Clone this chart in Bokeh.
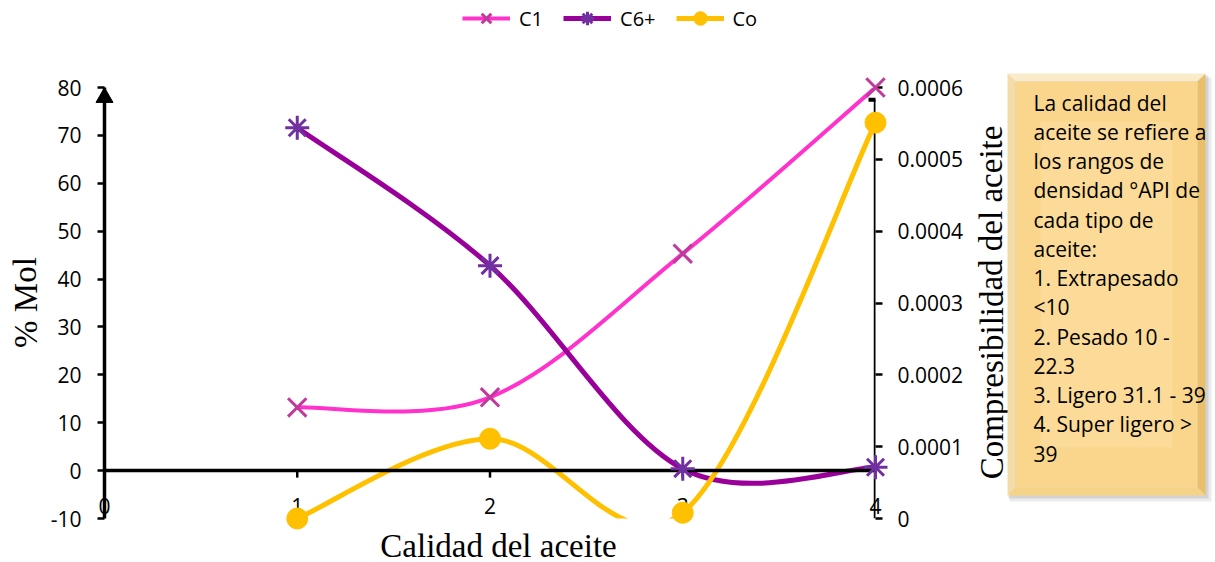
import numpy as np
from bokeh.plotting import figure
from bokeh.layouts import column
from bokeh.models import (Range1d, LinearAxis, FixedTicker, Span, Arrow, TeeHead,
                          Legend, LegendItem, CustomJSTickFormatter, ColumnDataSource)
from bokeh.core.properties import value
from bokeh.embed import file_html
from bokeh.resources import INLINE

# ---------------- data ----------------
CALIDAD = [1, 2, 3, 4]
C1 = [13.2, 15.3, 45.3, 80.0]
C6 = [71.6, 42.8, 0.4, 0.7]
CO = [0.0, 0.000111, 0.000008, 0.000551]
X_TICKS = [0, 1, 2, 3, 4]
Y_TICKS = [-10, 0, 10, 20, 30, 40, 50, 60, 70, 80]
Y2_TICKS = [0, 0.0001, 0.0002, 0.0003, 0.0004, 0.0005, 0.0006]
SERIES = ["C1", "C6+", "Co"]
X_TITLE = "Calidad del aceite"
Y_TITLE = "% Mol"
Y2_TITLE = "Compresibilidad del aceite"
NOTE_LINES = ["La calidad del", "aceite se refiere a", "los rangos de",
              "densidad °API de", "cada tipo de", "aceite:",
              "1. Extrapesado", "<10", "2. Pesado 10 -", "22.3",
              "3. Ligero 31.1 - 39", "4. Super ligero >", "39"]

SANS = "Open Sans"
SERIF = "Liberation Serif"
LINE_COLORS = ["#FF33CC", "#990099", "#FFC000"]
MARK_COLORS = ["#C0399B", "#7030A0", "#FFC000"]
LEG_H = 35  # height of the legend strip at the top of the page


def smooth(xs, ys, k=1.0 / 6.0):
    """Excel-like smoothed line: cubic Bezier control points from neighbours."""
    px = [xs[0]] + list(xs) + [xs[-1]]
    py = [ys[0]] + list(ys) + [ys[-1]]
    d = dict(x0=[], y0=[], x1=[], y1=[], cx0=[], cy0=[], cx1=[], cy1=[])
    for i in range(len(xs) - 1):
        a, b, c, e = i, i + 1, i + 2, i + 3
        d["x0"].append(px[b]); d["y0"].append(py[b])
        d["x1"].append(px[c]); d["y1"].append(py[c])
        d["cx0"].append(px[b] + (px[c] - px[a]) * k)
        d["cy0"].append(py[b] + (py[c] - py[a]) * k)
        d["cx1"].append(px[c] - (px[e] - px[b]) * k)
        d["cy1"].append(py[c] - (py[e] - py[b]) * k)
    return d


curve_src = [ColumnDataSource(smooth(CALIDAD, ys)) for ys in (C1, C6, CO)]
point_src = [ColumnDataSource(dict(x=CALIDAD, y=ys)) for ys in (C1, C6, CO)]
BEZ = dict(x0="x0", y0="y0", x1="x1", y1="y1", cx0="cx0", cy0="cy0", cx1="cx1", cy1="cy1")
LINE_W = [4, 5, 5]
MARKERS = [dict(marker="x", size=26, line_width=3),
           dict(marker="asterisk", size=24, line_width=3),
           dict(marker="circle", size=21, line_width=1)]

# ---------------- main chart ----------------
p = figure(width=1215, height=562 - LEG_H, x_range=Range1d(0, 4), y_range=Range1d(-10, 80),
           output_backend="svg", toolbar_location=None,
           x_axis_type=None, y_axis_type=None,
           min_border_left=104, min_border_right=340, min_border_top=87 - LEG_H,
           min_border_bottom=44)
p.outline_line_color = None
p.background_fill_color = "white"
p.border_fill_color = "white"
# helper ranges in page pixels (for titles and the note box)
p.extra_y_ranges = {"comp": Range1d(0, 0.0006), "py": Range1d(518, 87)}
p.extra_x_ranges = {"px": Range1d(104, 875)}

plain = CustomJSTickFormatter(code="return String(tick);")

yax = LinearAxis(ticker=FixedTicker(ticks=Y_TICKS), formatter=plain, axis_line_width=3.5,
                 major_tick_line_width=2.5, major_tick_out=7, major_tick_in=0,
                 minor_tick_line_color=None, major_label_standoff=16,
                 major_label_text_font=SANS, major_label_text_font_size="21px",
                 major_label_text_color="black")
p.add_layout(yax, "left")

xax = LinearAxis(ticker=FixedTicker(ticks=X_TICKS), formatter=plain, axis_line_color=None,
                 major_tick_line_color=None, major_tick_out=0, major_tick_in=0,
                 minor_tick_line_color=None, major_label_standoff=-21,
                 major_label_text_font=SANS, major_label_text_font_size="21px",
                 major_label_text_color="black")
p.add_layout(xax, "below")

y2ax = LinearAxis(y_range_name="comp", ticker=FixedTicker(ticks=Y2_TICKS),
                  formatter=CustomJSTickFormatter(code="return tick == 0 ? '0' : tick.toFixed(4);"),
                  axis_line_color=None, major_tick_line_width=2.5, major_tick_out=7,
                  major_tick_in=0, minor_tick_line_color=None, major_label_standoff=15,
                  major_label_text_font=SANS, major_label_text_font_size="21px",
                  major_label_text_color="black")
p.add_layout(y2ax, "right")

# horizontal axis line at y = 0, with its tick marks
p.add_layout(Span(location=0, dimension="width", line_color="black", line_width=3.5))
tick_len = 7 * (80 - (-10)) / 431.0
p.segment(x0=X_TICKS, y0=[0] * len(X_TICKS), x1=X_TICKS, y1=[-tick_len] * len(X_TICKS),
          line_color="black", line_width=2.5)

# arrow head on top of the left axis, tee cap on the right axis
p.scatter(x=[0], y=[97], y_range_name="py", marker="triangle", size=17,
          fill_color="black", line_color="black", level="overlay")
p.add_layout(Arrow(x_start=4, y_start=0, x_end=4, y_end=0.000583, y_range_name="comp",
                   line_color="black", line_width=3.5,
                   end=TeeHead(size=14, line_color="black", line_width=4)))

for i in range(3):
    yr = "comp" if i == 2 else "default"
    p.bezier(source=curve_src[i], line_color=LINE_COLORS[i], line_width=LINE_W[i],
             y_range_name=yr, **BEZ)
for i in range(3):
    yr = "comp" if i == 2 else "default"
    p.scatter("x", "y", source=point_src[i], line_color=MARK_COLORS[i],
              fill_color=MARK_COLORS[i], y_range_name=yr, level="overlay", **MARKERS[i])

# axis titles
TITLE = dict(x_range_name="px", y_range_name="py", text_align="center", text_baseline="middle",
             text_font=value(SERIF), text_font_size="33px", text_color="black", level="overlay")
p.text(x=[25], y=[302], text=[Y_TITLE], angle=[np.pi / 2], **TITLE)
p.text(x=[498], y=[545], text=[X_TITLE], **TITLE)
p.text(x=[991], y=[302], text=[Y2_TITLE], angle=[np.pi / 2], **TITLE)

# note box (bevelled)
L, T, R, B, bw = 1007, 73, 1205, 495, 8
box = dict(x_range_name="px", y_range_name="py", level="overlay", line_color=None)
p.quad(left=[L + 2], right=[R + 6], top=[T + 4], bottom=[B + 6], fill_color="#000000",
       fill_alpha=0.08, **box)
p.quad(left=[L + 1], right=[R + 3], top=[T + 2], bottom=[B + 3], fill_color="#000000",
       fill_alpha=0.10, **box)
p.patch(x=[L, R, R - bw, L + bw], y=[T, T, T + bw, T + bw], fill_color="#FAEBCB", **box)
p.patch(x=[L, L + bw, L + bw, L], y=[T, T + bw, B - bw, B], fill_color="#F4DCA8", **box)
p.patch(x=[R, R, R - bw, R - bw], y=[T, B, B - bw, T + bw], fill_color="#E9BF6C", **box)
p.patch(x=[L, L + bw, R - bw, R], y=[B, B - bw, B - bw, B], fill_color="#F5D488", **box)
p.quad(left=[L + bw], right=[R - bw], top=[T + bw], bottom=[B - bw], fill_color="#F9D68C", **box)
p.quad(left=[L + bw + 25], right=[R - bw - 25], top=[T + bw + 40], bottom=[B - bw - 40],
       fill_color="#FBDE9E", fill_alpha=0.6, **box)

line_y = [102 + 29.25 * i for i in range(len(NOTE_LINES))]
p.text(x=[1033] * len(NOTE_LINES), y=line_y, text=NOTE_LINES, x_range_name="px",
       y_range_name="py", text_font=value(SANS), text_font_size="21px", text_color="black",
       text_baseline="middle", text_align="left", level="overlay")

# ---------------- legend strip ----------------
# same series drawn into a strip whose ranges keep them out of view; only the legend shows
lg = figure(width=1215, height=LEG_H, x_range=Range1d(-50, -40), y_range=Range1d(-50, -40),
            output_backend="svg", toolbar_location=None, x_axis_type=None, y_axis_type=None,
            min_border=0)
lg.outline_line_color = None
lg.border_fill_color = "white"
items = []
for i in range(3):
    rb = lg.bezier(source=curve_src[i], line_color=LINE_COLORS[i], line_width=LINE_W[i], **BEZ)
    rs = lg.scatter("x", "y", source=point_src[i], line_color=MARK_COLORS[i],
                    fill_color=MARK_COLORS[i], **MARKERS[i])
    items.append(LegendItem(label=SERIES[i], renderers=[rb, rs]))
legend = Legend(items=items, orientation="horizontal", location=(358, 0),
                glyph_width=48, glyph_height=34, label_standoff=9, spacing=20,
                padding=0, margin=0, border_line_alpha=0, background_fill_alpha=0,
                label_text_font=SANS, label_text_font_size="20px", label_text_color="black")
lg.add_layout(legend)

page = column(lg, p, spacing=0)
open("out.html", "w").write(file_html(page, INLINE))
